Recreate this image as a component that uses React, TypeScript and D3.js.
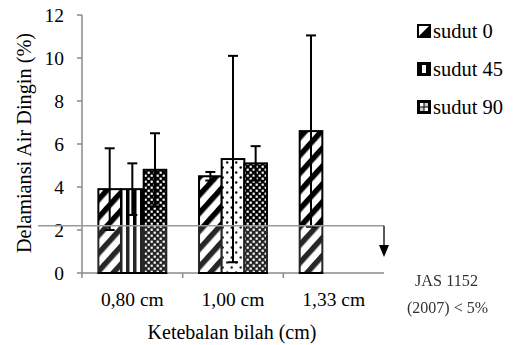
import React from "react";
import * as d3 from "d3";

// Board thickness categories
const categories = ["0,80 cm", "1,00 cm", "1,33 cm"];
// Series (cutting angle)
const seriesNames = ["sudut 0", "sudut 45", "sudut 90"];
// Mean delamination (%) per series, per category (null = not measured)
const sudut0 = [3.9, 4.5, 6.6];
const sudut45 = [3.9, 5.3, null];
const sudut90 = [4.8, 5.1, null];
// Standard deviations
const sd0 = [1.9, 0.2, 4.45];
const sd45 = [1.2, 4.8, null];
const sd90 = [1.7, 0.8, null];
const yTicks = [0, 2, 4, 6, 8, 10, 12];
// Standard limit line
const limitValue = 2.2;
const standardLines = ["JAS 1152", "(2007) < 5%"];

const W = 515;
const H = 345;
const FONT = "'Liberation Serif', 'Times New Roman', serif";

export default function App() {
  const x = d3.scaleBand<string>().domain(categories).range([82, 384]).padding(0);
  const y = d3.scaleLinear().domain([0, 12]).range([273, 15]);
  const bw = x.bandwidth();
  const barW = bw * 0.225;

  const values = [sudut0, sudut45, sudut90];
  const sds = [sd0, sd45, sd90];
  const patternIds = ["pDiag", "pVert", "pCheck"];

  type Bar = { ci: number; si: number; v: number; sd: number; pat: string };
  const bars: Bar[] = [];
  categories.forEach((c, ci) => {
    values.forEach((arr, si) => {
      const v = arr[ci];
      if (v == null) return;
      let pat = patternIds[si];
      if (si === 1 && ci === 1) pat = "pDots";
      bars.push({ ci, si, v, sd: sds[si][ci] as number, pat });
    });
  });

  const barX = (b: Bar) => (x(categories[b.ci]) as number) + bw / 2 - 1.5 * barW + b.si * barW;
  const yLimit = y(limitValue);
  const axisColor = "#8a8a8a";

  return (
    <svg
      width={W}
      height={H}
      style={{ position: "absolute", left: 0, top: 0, background: "#fff" }}
      fontFamily={FONT}
    >
      <defs>
        <pattern id="pDiag" width="12" height="12" patternUnits="userSpaceOnUse" patternTransform="rotate(42)">
          <rect width="12" height="12" fill="#fff" />
          <rect width="5.5" height="12" fill="#000" />
        </pattern>
        <pattern id="pVert" width="7" height="7" patternUnits="userSpaceOnUse">
          <rect width="7" height="7" fill="#fff" />
          <rect x="0" width="3.5" height="7" fill="#000" />
        </pattern>
        <pattern id="pCheck" width="6" height="6" patternUnits="userSpaceOnUse">
          <rect width="6" height="6" fill="#000" />
          <rect x="0.6" y="0.6" width="2.2" height="2.2" fill="#fff" />
          <rect x="3.6" y="3.6" width="2.2" height="2.2" fill="#fff" />
        </pattern>
        <pattern id="pDots" width="9" height="10" patternUnits="userSpaceOnUse">
          <rect width="9" height="10" fill="#fff" />
          <circle cx="2.2" cy="2.5" r="1.2" fill="#000" />
          <circle cx="6.7" cy="7.5" r="1.2" fill="#000" />
        </pattern>
        <filter id="soft" x="-10%" y="-10%" width="120%" height="120%">
          <feGaussianBlur stdDeviation="0.35" />
        </filter>
      </defs>

      {/* y axis */}
      <line x1={82} x2={82} y1={y(12)} y2={y(0)} stroke={axisColor} strokeWidth={1.5} />
      {yTicks.map((t) => (
        <g key={t}>
          <line x1={77} x2={82} y1={y(t)} y2={y(t)} stroke={axisColor} strokeWidth={1.5} />
          <text x={64} y={y(t)} dy="0.35em" textAnchor="end" fontSize={19.5} fill="#000">
            {t}
          </text>
        </g>
      ))}

      {/* x axis */}
      <line x1={82} x2={384} y1={y(0)} y2={y(0)} stroke={axisColor} strokeWidth={1.5} />
      {categories.map((c) => (
        <line key={"t" + c} x1={x(c) as number} x2={x(c) as number} y1={y(0)} y2={y(0) + 5} stroke={axisColor} strokeWidth={1.5} />
      ))}
      {categories.map((c) => (
        <text key={c} x={(x(c) as number) + bw / 2} y={306} textAnchor="middle" fontSize={19.5} fill="#000">
          {c}
        </text>
      ))}

      {/* bars */}
      {bars.map((b, i) => (
        <rect
          key={i}
          x={barX(b)}
          y={y(b.v)}
          width={barW}
          height={y(0) - y(b.v)}
          fill={`url(#${b.pat})`}
          stroke="#000"
          strokeWidth={2}
        />
      ))}

      {/* region under the limit */}
      <rect x={83} y={yLimit} width={300} height={y(0) - yLimit - 1} fill="#fff" opacity={0.15} />

      {/* error bars */}
      {bars.map((b, i) => {
        const cx = barX(b) + barW / 2;
        const top = y(b.v + b.sd);
        const bot = y(b.v - b.sd);
        return (
          <g key={"e" + i} stroke="#000" strokeWidth={2}>
            <line x1={cx} x2={cx} y1={top} y2={bot} />
            <line x1={cx - 5} x2={cx + 5} y1={top} y2={top} />
            <line x1={cx - 5} x2={cx + 5} y1={bot} y2={bot} />
          </g>
        );
      })}

      {/* limit line and arrow */}
      <line x1={38} x2={384} y1={yLimit} y2={yLimit} stroke="#999" strokeWidth={1.5} />
      <line x1={384} x2={384} y1={yLimit} y2={247} stroke="#222" strokeWidth={1.5} />
      <polygon points={`379,245 389,245 384,257`} fill="#000" />

      {/* axis titles */}
      <text x={232} y={339} textAnchor="middle" fontSize={20} fill="#000">
        Ketebalan bilah (cm)
      </text>
      <text
        transform={`translate(31,143) rotate(-90)`}
        textAnchor="middle"
        fontSize={20.3}
        fill="#000"
      >
        Delamiansi Air Dingin (%)
      </text>

      {/* legend */}
      {seriesNames.map((s, i) => {
        const cy = 31 + i * 38;
        const lx = 418;
        return (
          <g key={s}>
            {i === 0 && (
              <g>
                <rect x={lx} y={cy - 6} width={12} height={12} fill="#fff" stroke="#000" strokeWidth={2} />
                <polygon points={`${lx + 11},${cy - 5} ${lx + 11},${cy + 5} ${lx + 1},${cy + 5}`} fill="#000" />
              </g>
            )}
            {i === 1 && (
              <g>
                <rect x={lx - 1} y={cy - 7} width={14} height={14} fill="#000" />
                <rect x={lx + 4} y={cy - 4} width={4} height={8} fill="#fff" />
              </g>
            )}
            {i === 2 && (
              <g>
                <rect x={lx - 1} y={cy - 7} width={14} height={14} fill="#000" />
                <rect x={lx + 2} y={cy - 4} width={3.5} height={3.5} fill="#fff" />
                <rect x={lx + 6.5} y={cy + 0.5} width={3.5} height={3.5} fill="#fff" />
                <rect x={lx + 6.5} y={cy - 4} width={3.5} height={3.5} fill="#ccc" />
                <rect x={lx + 2} y={cy + 0.5} width={3.5} height={3.5} fill="#ccc" />
              </g>
            )}
            <text x={433} y={cy + 6.5} fontSize={20.5} fill="#000">
              {s}
            </text>
          </g>
        );
      })}

      {/* standard note */}
      <g filter="url(#soft)" fill="#333" fontSize={17}>
        <text x={415} y={286} textLength={63} lengthAdjust="spacingAndGlyphs">
          {standardLines[0]}
        </text>
        <text x={407} y={313} textLength={81} lengthAdjust="spacingAndGlyphs">
          {standardLines[1]}
        </text>
      </g>
    </svg>
  );
}
